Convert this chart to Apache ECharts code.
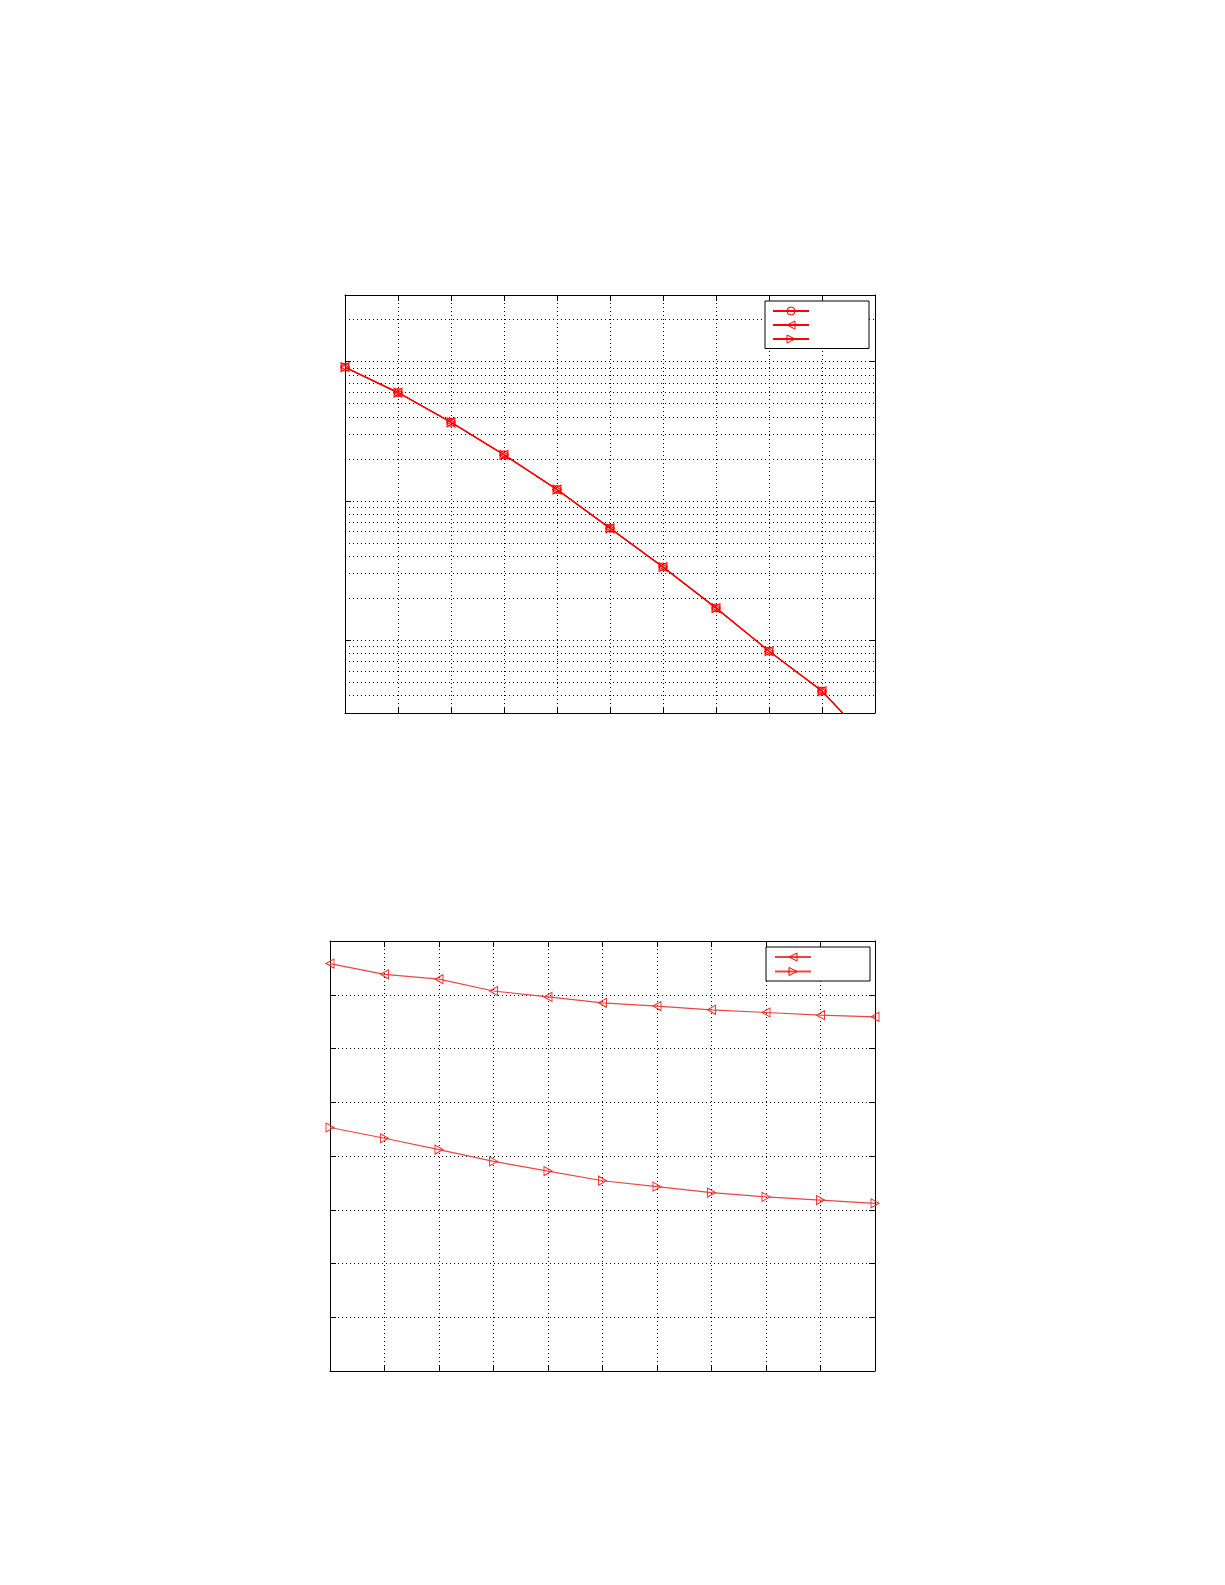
<!DOCTYPE html>
<html>
<head>
<meta charset="utf-8">
<script src="https://cdn.jsdelivr.net/npm/echarts@6/dist/echarts.min.js"></script>
<style>
html,body{margin:0;padding:0;background:#fff;}
#chart{width:1225px;height:1585px;}
</style>
</head>
<body>
<div id="chart"></div>
<script>
// ---- data ----
const xValues = [0, 1, 2, 3, 4, 5, 6, 7, 8, 9, 10];
// top panel (log scale), three coinciding curves
const topCircle = [0.0910, 0.0598, 0.0366, 0.0214, 0.01205, 0.00635, 0.00335, 0.00170, 0.000834, 0.000431, 0.00017];
const topLeftTri = [0.0910, 0.0598, 0.0366, 0.0214, 0.01205, 0.00635, 0.00335, 0.00170, 0.000834, 0.000431, 0.00017];
const topRightTri = [0.0910, 0.0598, 0.0366, 0.0214, 0.01205, 0.00635, 0.00335, 0.00170, 0.000834, 0.000431, 0.00017];
// bottom panel (linear scale)
const bottomLeftTri = [7.58, 7.38, 7.29, 7.07, 6.96, 6.85, 6.79, 6.72, 6.67, 6.62, 6.59];
const bottomRightTri = [4.53, 4.33, 4.12, 3.90, 3.72, 3.54, 3.43, 3.32, 3.24, 3.18, 3.12];
// log-axis minor grid values
const topMinorGrid = [4e-4, 5e-4, 6e-4, 7e-4, 8e-4, 9e-4,
  2e-3, 3e-3, 4e-3, 5e-3, 6e-3, 7e-3, 8e-3, 9e-3,
  2e-2, 3e-2, 4e-2, 5e-2, 6e-2, 7e-2, 8e-2, 9e-2, 2e-1];

// ---- styles ----
const RED = '#ff0000';
const LEFT_TRI = 'path://M0,5L10,0L10,10Z';
const RIGHT_TRI = 'path://M10,5L0,0L0,10Z';
const dotted = {color: '#000', width: 1, type: [1, 3]};
const pairs = arr => xValues.map((x, i) => [x, arr[i]]);
const hollow = {color: 'rgba(255,255,255,0)', borderColor: RED, borderWidth: 1};

function xAx(gridIndex, pos) {
  return {
    type: 'value', gridIndex: gridIndex, position: pos, min: 0, max: 10, interval: 1,
    axisLine: {show: true, onZero: false, lineStyle: {color: '#000', width: 1}},
    axisTick: {show: true, inside: true, length: 6, lineStyle: {color: '#000'}},
    axisLabel: {show: false},
    splitLine: {show: pos === 'bottom', lineStyle: dotted}
  };
}
function yAxBase(gridIndex, pos, grid) {
  return {
    gridIndex: gridIndex, position: pos,
    axisLine: {show: true, onZero: false, lineStyle: {color: '#000', width: 1}},
    axisTick: {show: true, inside: true, length: 6, lineStyle: {color: '#000'}},
    axisLabel: {show: false},
    splitLine: {show: grid, lineStyle: dotted}
  };
}

const chart = echarts.init(document.getElementById('chart'), null, {renderer: 'canvas'});
const option = {
  animation: false,
  backgroundColor: '#fff',
  grid: [
    {left: 345, top: 295, width: 530, height: 418, containLabel: false},
    {left: 330, top: 941, width: 545, height: 430, containLabel: false}
  ],
  xAxis: [xAx(0, 'bottom'), xAx(0, 'top'), xAx(1, 'bottom'), xAx(1, 'top')],
  yAxis: [
    Object.assign(yAxBase(0, 'left', true), {type: 'log', logBase: 10, min: 3e-4, max: 0.3}),
    Object.assign(yAxBase(0, 'right', false), {type: 'log', logBase: 10, min: 3e-4, max: 0.3}),
    Object.assign(yAxBase(1, 'left', true), {type: 'value', min: 0, max: 8, interval: 1}),
    Object.assign(yAxBase(1, 'right', false), {type: 'value', min: 0, max: 8, interval: 1})
  ],
  legend: [
    {data: ['s1', 's2', 's3'], orient: 'vertical', left: 765, top: 301,
     itemWidth: 36, itemHeight: 10, itemGap: 4.5,
     padding: [5, 59, 5, 7], backgroundColor: '#fff', borderColor: '#000', borderWidth: 1,
     borderRadius: 0, formatter: () => '', selectedMode: false, textStyle: {fontSize: 1},
     itemStyle: {color: 'rgba(255,255,255,0)', borderColor: RED, borderWidth: 1}},
    {data: ['s4', 's5'], orient: 'vertical', left: 766, top: 947,
     itemWidth: 36, itemHeight: 10, itemGap: 5,
     padding: [5, 58, 5, 8], backgroundColor: '#fff', borderColor: '#000', borderWidth: 1,
     borderRadius: 0, formatter: () => '', selectedMode: false, textStyle: {fontSize: 1},
     itemStyle: {color: 'rgba(255,255,255,0)', borderColor: RED, borderWidth: 1}}
  ],
  series: [
    {name: 's1', type: 'line', xAxisIndex: 0, yAxisIndex: 0, data: pairs(topCircle),
     symbol: 'circle', symbolSize: 8, showAllSymbol: true, clip: true, z: 3,
     lineStyle: {color: RED, width: 1.2}, itemStyle: hollow,
     markLine: {silent: true, symbol: 'none', label: {show: false}, animation: false,
       precision: 8, lineStyle: dotted, z: 1,
       data: topMinorGrid.map(v => ({yAxis: v}))}},
    {name: 's2', type: 'line', xAxisIndex: 0, yAxisIndex: 0, data: pairs(topLeftTri),
     symbol: LEFT_TRI, symbolSize: [8, 9], showAllSymbol: true, clip: true, z: 3,
     lineStyle: {color: RED, width: 1.2}, itemStyle: hollow},
    {name: 's3', type: 'line', xAxisIndex: 0, yAxisIndex: 0, data: pairs(topRightTri),
     symbol: RIGHT_TRI, symbolSize: [8, 9], showAllSymbol: true, clip: true, z: 3,
     lineStyle: {color: RED, width: 1.2}, itemStyle: hollow},
    {name: 's4', type: 'line', xAxisIndex: 2, yAxisIndex: 2, data: pairs(bottomLeftTri),
     symbol: LEFT_TRI, symbolSize: [8, 9], showAllSymbol: true, clip: false, z: 3,
     lineStyle: {color: '#ee4444', width: 1.2},
     itemStyle: {color: 'rgba(255,255,255,0)', borderColor: '#ee3333', borderWidth: 1}},
    {name: 's5', type: 'line', xAxisIndex: 2, yAxisIndex: 2, data: pairs(bottomRightTri),
     symbol: RIGHT_TRI, symbolSize: [8, 9], showAllSymbol: true, clip: false, z: 3,
     lineStyle: {color: '#ee4444', width: 1.2},
     itemStyle: {color: 'rgba(255,255,255,0)', borderColor: '#ee3333', borderWidth: 1}}
  ]
};
chart.setOption(option);
</script>
</body>
</html>
